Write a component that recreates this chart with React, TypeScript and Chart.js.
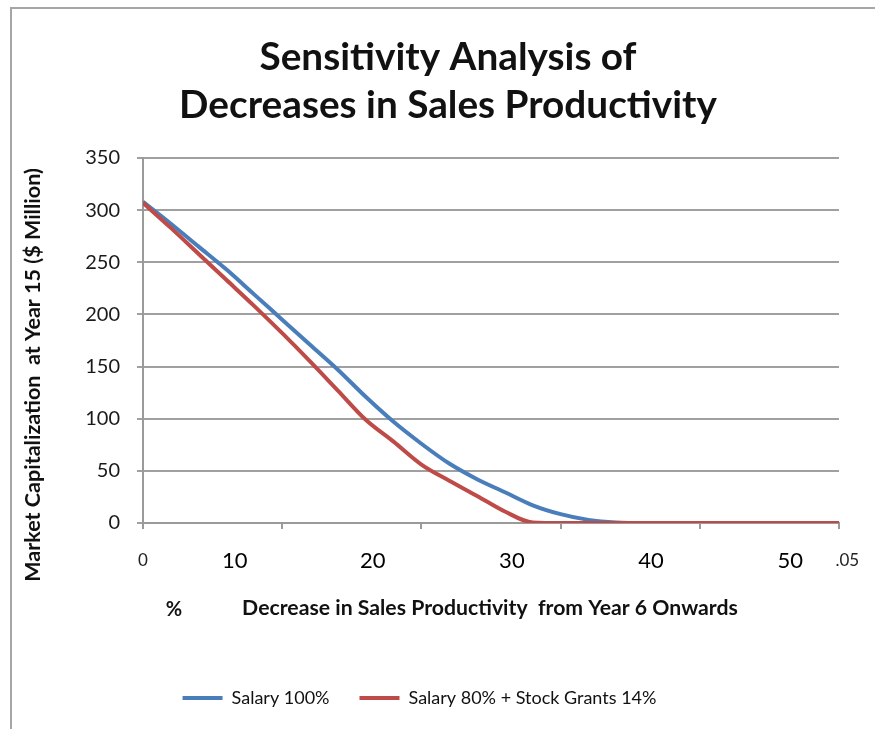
import React, { useEffect, useRef } from 'react';
import { Chart, registerables } from 'chart.js';

Chart.register(...registerables);

// ---- data ----
const xValues = [0, 2, 4, 6, 8, 10, 12, 14, 16, 18, 20, 22, 24, 26, 28, 30, 32, 34, 36, 38, 40, 42, 44, 46, 48, 50];
const salary100 = [308, 287, 265, 243, 219, 195, 171, 147, 121, 97, 76, 57, 42, 29.5, 17, 8.5, 3, 0.5, 0, 0, 0, 0, 0, 0, 0, 0];
const salary80Stock14 = [307, 283, 258, 233, 208, 182, 155, 127, 99, 78, 56, 40.5, 26, 11, 0.5, 0, 0, 0, 0, 0, 0, 0, 0, 0, 0, 0];
const seriesNames = ['Salary 100%', 'Salary 80% + Stock Grants 14%'];
const xTickLabels = ['0', '10', '20', '30', '40', '50', '.05'];
const titleLines = ['Sensitivity Analysis of', 'Decreases in Sales Productivity'];
const yTitle = 'Market Capitalization  at Year 15 ($ Million)';
const xTitle = 'Decrease in Sales Productivity  from Year 6 Onwards';
const xUnit = '%';

// label anchors along the x axis (axis units)
const xLabelAnchors = [0, 6.6, 16.5, 26.5, 36.5, 46.5, 50.6];

const FAMILY = 'Lato, "Open Sans", sans-serif';

function fitSize(ctx: CanvasRenderingContext2D, text: string, weight: string, target: number, base: number) {
  ctx.font = `${weight} ${base}px ${FAMILY}`;
  const w = ctx.measureText(text).width;
  return (base * target) / w;
}

const overlayPlugin = {
  id: 'overlayText',
  beforeDraw(chart: any) {
    const { ctx } = chart;
    ctx.save();
    ctx.fillStyle = '#ffffff';
    ctx.fillRect(0, 0, chart.width, chart.height);
    ctx.strokeStyle = '#a6a6a6';
    ctx.lineWidth = 2;
    ctx.beginPath();
    ctx.moveTo(11, chart.height);
    ctx.lineTo(11, 8);
    ctx.lineTo(chart.width, 8);
    ctx.stroke();
    ctx.restore();
  },
  afterDraw(chart: any) {
    const { ctx } = chart;
    const xs = chart.scales.x;
    ctx.save();
    ctx.fillStyle = '#111111';
    ctx.textAlign = 'center';
    ctx.textBaseline = 'alphabetic';

    // Title
    const ts = fitSize(ctx, titleLines[1], 'bold', 538, 30);
    ctx.font = `bold ${ts}px ${FAMILY}`;
    ctx.fillText(titleLines[0], 448, 70);
    ctx.fillText(titleLines[1], 448, 118);

    // Y title
    const ys = fitSize(ctx, yTitle, 'bold', 414, 15);
    ctx.font = `bold ${ys}px ${FAMILY}`;
    ctx.save();
    ctx.translate(33, 375);
    ctx.rotate(-Math.PI / 2);
    ctx.textBaseline = 'middle';
    ctx.fillText(yTitle, 0, 0);
    ctx.restore();

    // X title
    const xts = fitSize(ctx, xTitle, 'bold', 496, 16);
    ctx.font = `bold ${xts}px ${FAMILY}`;
    ctx.textBaseline = 'middle';
    ctx.fillText(xTitle, 490, 608);

    ctx.font = `bold 20px ${FAMILY}`;
    ctx.fillText(xUnit, 174, 610);

    // X tick labels
    xTickLabels.forEach((lab, i) => {
      const small = i === 0 || i === xTickLabels.length - 1;
      ctx.font = `${small ? 17 : 22}px ${FAMILY}`;
      ctx.fillStyle = small ? '#222222' : '#000000';
      ctx.fillText(lab, xs.getPixelForValue(xLabelAnchors[i]), 561);
    });
    ctx.restore();
  },
};

export default function App() {
  const ref = useRef<HTMLCanvasElement | null>(null);
  useEffect(() => {
    document.body.style.margin = '0';
    const canvas = ref.current!;
    const chart = new Chart(canvas, {
      type: 'line',
      data: {
        datasets: [
          {
            label: seriesNames[0],
            data: xValues.map((x, i) => ({ x, y: salary100[i] })),
            borderColor: '#4A7EBB',
            backgroundColor: '#4A7EBB',
            borderWidth: 4,
            pointRadius: 0,
            cubicInterpolationMode: 'monotone',
            order: 1,
          },
          {
            label: seriesNames[1],
            data: xValues.map((x, i) => ({ x, y: salary80Stock14[i] })),
            borderColor: '#BE4B48',
            backgroundColor: '#BE4B48',
            borderWidth: 4,
            pointRadius: 0,
            cubicInterpolationMode: 'monotone',
            order: 0,
          },
        ],
      },
      options: {
        responsive: false,
        animation: false,
        layout: { padding: { top: 158, left: 0, right: 36, bottom: 12 } },
        plugins: {
          title: { display: false },
          tooltip: { enabled: false },
          legend: {
            position: 'bottom',
            labels: {
              usePointStyle: true,
              pointStyle: 'line',
              pointStyleWidth: 40,
              padding: 30,
              color: '#111111',
              font: { family: FAMILY, size: 18 },
              sort: (a: any, b: any) => a.datasetIndex - b.datasetIndex,
            },
          },
        },
        scales: {
          x: {
            type: 'linear',
            min: 0,
            max: 50,
            ticks: { stepSize: 10, display: false },
            grid: { drawOnChartArea: false, drawTicks: true, tickLength: 6, color: '#9a9a9a', lineWidth: 2 },
            border: { display: true, color: '#9a9a9a', width: 2 },
            afterFit: (s: any) => { s.height = 136; },
          },
          y: {
            min: 0,
            max: 350,
            ticks: { stepSize: 50, padding: 17, color: '#1a1a1a', font: { family: FAMILY, size: 20 } },
            grid: { color: '#a0a0a0', lineWidth: 2, tickLength: 6, drawTicks: true },
            border: { display: true, color: '#9a9a9a', width: 2 },
            afterFit: (s: any) => { s.width = 143; },
          },
        },
      } as any,
      plugins: [overlayPlugin],
    });
    return () => chart.destroy();
  }, []);
  return (
    <div style={{ width: 875, height: 729, overflow: 'hidden' }}>
      <canvas ref={ref} width={875} height={729} style={{ display: 'block' }} />
    </div>
  );
}
